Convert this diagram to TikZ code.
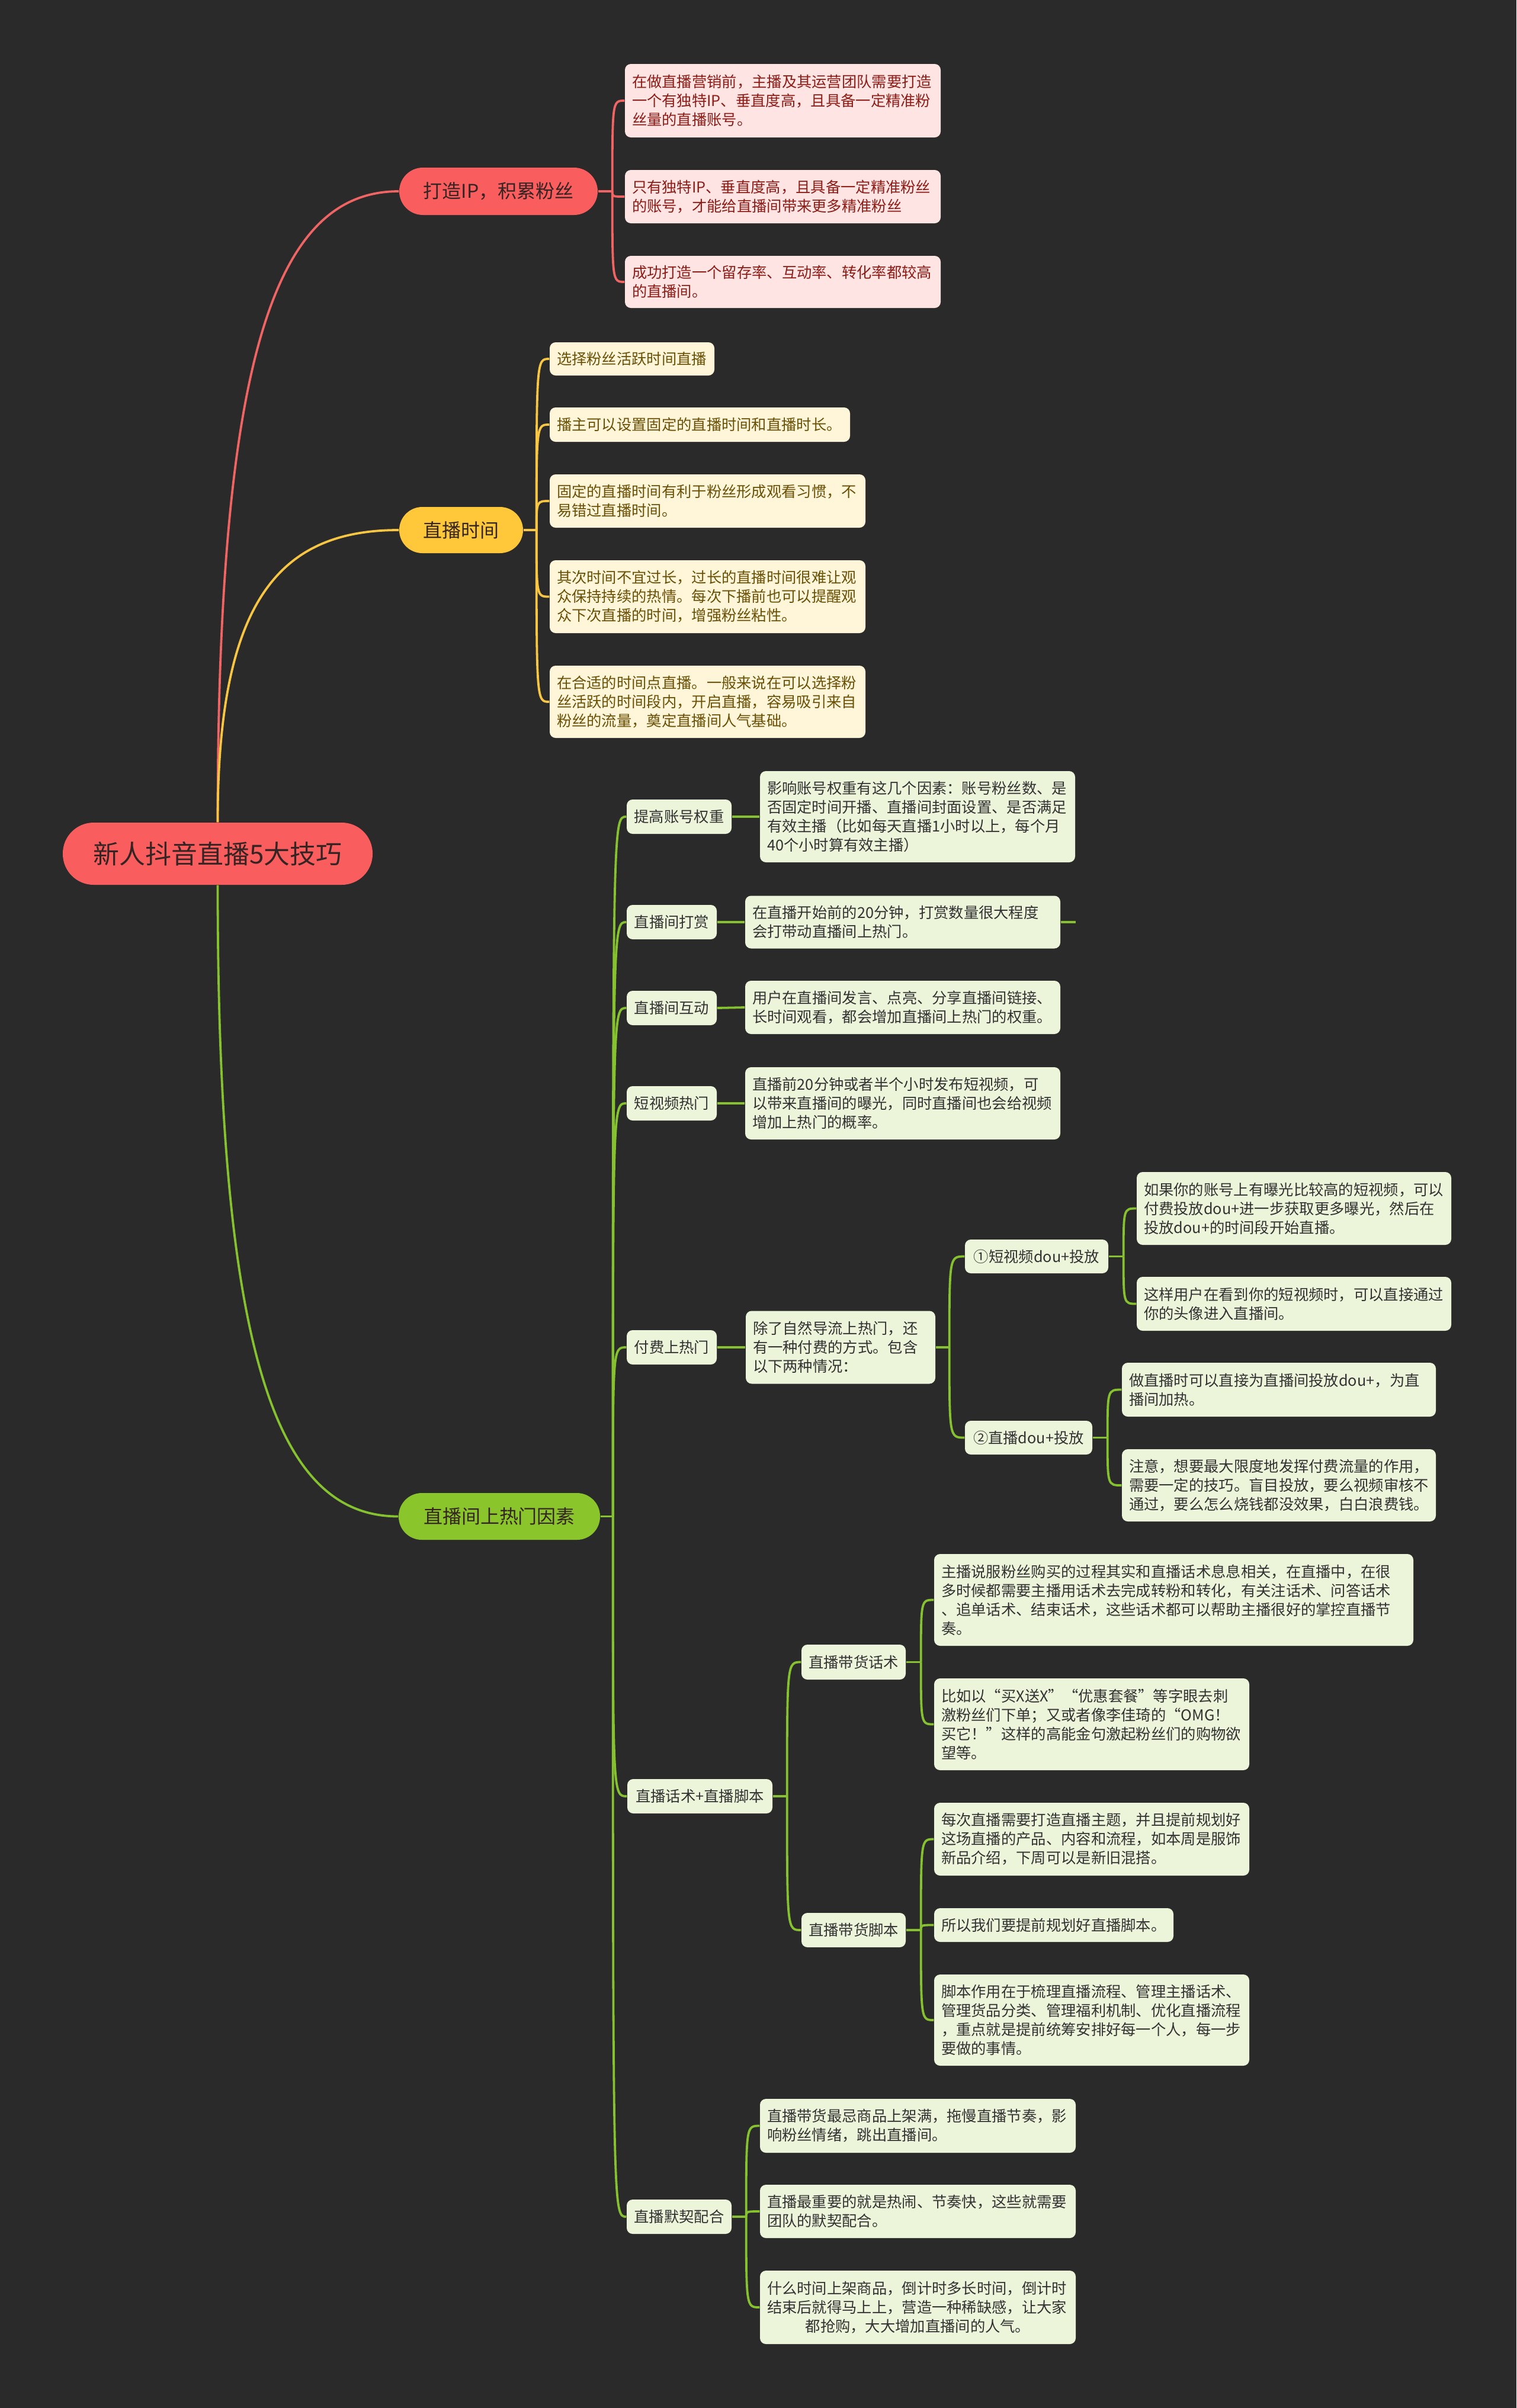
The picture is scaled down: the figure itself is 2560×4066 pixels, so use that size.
\documentclass[tikz,border=0pt]{standalone}
\usepackage{fontspec}
\setmainfont{Noto Sans CJK SC}
\usetikzlibrary{calc}
\definecolor{bgc}{RGB}{42,42,42}
\definecolor{redc}{RGB}{250,93,93}
\definecolor{redl}{RGB}{240,100,100}
\definecolor{yelc}{RGB}{255,200,58}
\definecolor{yell}{RGB}{248,198,66}
\definecolor{grnc}{RGB}{138,197,44}
\definecolor{grnl}{RGB}{134,194,48}
\definecolor{rfill}{RGB}{255,228,228}
\definecolor{rtext}{RGB}{140,28,22}
\definecolor{yfill}{RGB}{255,246,218}
\definecolor{ytext}{RGB}{105,80,5}
\definecolor{gfill}{RGB}{236,245,218}
\definecolor{gtext}{RGB}{50,50,50}
\definecolor{pilltext}{RGB}{52,36,36}
\pgfdeclarelayer{bg}
\pgfdeclarelayer{conn}
\pgfsetlayers{bg,conn,main}
\begin{document}
\begin{tikzpicture}[x=0.1mm,y=-0.1mm,
  box/.style={rectangle, rounded corners=1mm, inner xsep=1.2mm, inner ysep=0pt,
    font=\fontsize{7.2}{9.1}\selectfont, align=left},
  rleaf/.style={box, fill=rfill, text=rtext},
  yleaf/.style={box, fill=yfill, text=ytext},
  gleaf/.style={box, fill=gfill, text=gtext},
  gsub/.style={box, fill=gfill, text=gtext, align=center, minimum height=5.8mm},
  pill/.style={rectangle, rounded corners=3.9mm, inner sep=0pt,
    font=\fontsize{9.1}{11}\selectfont, minimum height=7.9mm, text=pilltext},
  rline/.style={draw=redl, line width=0.38mm},
  yline/.style={draw=yell, line width=0.38mm},
  gline/.style={draw=grnl, line width=0.38mm}]

\begin{pgfonlayer}{bg}
\fill[bgc] (0,0) rectangle (2560,4066);
\end{pgfonlayer}
\useasboundingbox (0,0) rectangle (2560,4066);

% root
\node[pill, fill=redc, minimum width=52.3mm, minimum height=10.5mm, rounded corners=5.2mm,
  font=\fontsize{12.5}{14}\selectfont] (root) at (367.5,1441.5) {新人抖音直播5大技巧};

% level 1
\node[pill, fill=redc, minimum width=33.5mm, minimum height=8mm, rounded corners=4mm] (A) at (841.5,323) {打造IP，积累粉丝};
\node[pill, fill=yelc, minimum width=20.9mm, minimum height=7.8mm] (B) at (778.5,895) {直播时间};
\node[pill, fill=grnc, minimum width=34mm, minimum height=7.9mm] (C) at (843,2560.5) {直播间上热门因素};

% red leaves
\node[rleaf, text width=50.9mm, minimum height=12.4mm] (a1) at (1321.5,170) {在做直播营销前，主播及其运营团队需要打造\\一个有独特IP、垂直度高，且具备一定精准粉\\丝量的直播账号。};
\node[rleaf, text width=50.9mm, minimum height=9mm] (a2) at (1321.5,332) {只有独特IP、垂直度高，且具备一定精准粉丝\\的账号，才能给直播间带来更多精准粉丝};
\node[rleaf, text width=50.9mm, minimum height=8.8mm] (a3) at (1321.5,476) {成功打造一个留存率、互动率、转化率都较高\\的直播间。};

% yellow leaves
\node[yleaf, text width=25.4mm, minimum height=5.6mm] (b1) at (1067,606) {选择粉丝活跃时间直播};
\node[yleaf, text width=48.3mm, minimum height=5.8mm] (b2) at (1181.5,717) {播主可以设置固定的直播时间和直播时长。};
\node[yleaf, text width=50.9mm, minimum height=9mm] (b3) at (1194.5,846) {固定的直播时间有利于粉丝形成观看习惯，不\\易错过直播时间。};
\node[yleaf, text width=50.9mm, minimum height=12.3mm] (b4) at (1194.5,1007.5) {其次时间不宜过长，过长的直播时间很难让观\\众保持持续的热情。每次下播前也可以提醒观\\众下次直播的时间，增强粉丝粘性。};
\node[yleaf, text width=50.9mm, minimum height=12.2mm] (b5) at (1194.5,1185) {在合适的时间点直播。一般来说在可以选择粉\\丝活跃的时间段内，开启直播，容易吸引来自\\粉丝的流量，奠定直播间人气基础。};

% green level 2
\node[gsub, minimum width=17.7mm] (c1) at (1146.5,1379) {提高账号权重};
\node[gsub, minimum width=15.2mm] (c2) at (1134,1557) {直播间打赏};
\node[gsub, minimum width=15.2mm] (c3) at (1134,1702) {直播间互动};
\node[gsub, minimum width=15.2mm] (c4) at (1134,1863) {短视频热门};
\node[gsub, minimum width=15.2mm] (c5) at (1134,2275) {付费上热门};
\node[gsub, minimum width=24.5mm] (c6) at (1181.5,3033) {直播话术+直播脚本};
\node[gsub, minimum width=17.7mm] (c7) at (1146.5,3743) {直播默契配合};

% green leaves
\node[gleaf, text width=50.8mm, minimum height=15.4mm] (c1l) at (1549,1379) {影响账号权重有这几个因素：账号粉丝数、是\\否固定时间开播、直播间封面设置、是否满足\\有效主播（比如每天直播1小时以上，每个月\\40个小时算有效主播）};
\node[gleaf, text width=50.8mm, minimum height=8.9mm] (c2l) at (1524,1557) {在直播开始前的20分钟，打赏数量很大程度\\会打带动直播间上热门。};
\node[gleaf, text width=50.8mm, minimum height=9mm] (c3l) at (1524,1701) {用户在直播间发言、点亮、分享直播间链接、\\长时间观看，都会增加直播间上热门的权重。};
\node[gleaf, text width=50.8mm, minimum height=12.2mm] (c4l) at (1524,1863) {直播前20分钟或者半个小时发布短视频，可\\以带来直播间的曝光，同时直播间也会给视频\\增加上热门的概率。};

\node[gleaf, text width=29.6mm, minimum height=12.3mm] (c5m) at (1419,2275) {除了自然导流上热门，还\\有一种付费的方式。包含\\以下两种情况：};
\node[gsub, minimum width=24.2mm, minimum height=5.7mm] (c5a) at (1750,2121.5) {①短视频dou+投放};
\node[gsub, minimum width=21.5mm, minimum height=5.7mm] (c5b) at (1736.5,2427.5) {②直播dou+投放};
\node[gleaf, text width=50.7mm, minimum height=12.3mm] (c5a1) at (2184.5,2040.5) {如果你的账号上有曝光比较高的短视频，可以\\付费投放dou+进一步获取更多曝光，然后在\\投放dou+的时间段开始直播。};
\node[gleaf, text width=50.7mm, minimum height=9.1mm] (c5a2) at (2184.5,2201.5) {这样用户在看到你的短视频时，可以直接通过\\你的头像进入直播间。};
\node[gleaf, text width=50.6mm, minimum height=9.1mm] (c5b1) at (2159,2346.5) {做直播时可以直接为直播间投放dou+，为直\\播间加热。};
\node[gleaf, text width=50.6mm, minimum height=12.2mm] (c5b2) at (2159,2508) {注意，想要最大限度地发挥付费流量的作用，\\需要一定的技巧。盲目投放，要么视频审核不\\通过，要么怎么烧钱都没效果，白白浪费钱。};

\node[gsub, minimum width=17.6mm, minimum height=5.9mm] (c6a) at (1441,2806.5) {直播带货话术};
\node[gsub, minimum width=17.6mm] (c6b) at (1441,3259) {直播带货脚本};
\node[gleaf, text width=78.5mm, minimum height=15.5mm] (c6a1) at (1981.5,2701.5) {主播说服粉丝购买的过程其实和直播话术息息相关，在直播中，在很\\多时候都需要主播用话术去完成转粉和转化，有关注话术、问答话术\\、追单话术、结束话术，这些话术都可以帮助主播很好的掌控直播节\\奏。};
\node[gleaf, text width=50.8mm, minimum height=15.5mm] (c6a2) at (1843,2911.5) {比如以“买X送X”“优惠套餐”等字眼去刺\\激粉丝们下单；又或者像李佳琦的“OMG！\\买它！”这样的高能金句激起粉丝们的购物欲\\望等。};
\node[gleaf, text width=50.8mm, minimum height=12.3mm] (c6b1) at (1843,3105.5) {每次直播需要打造直播主题，并且提前规划好\\这场直播的产品、内容和流程，如本周是服饰\\新品介绍，下周可以是新旧混搭。};
\node[gleaf, text width=38mm, minimum height=5.7mm] (c6b2) at (1779,3250.5) {所以我们要提前规划好直播脚本。};
\node[gleaf, text width=50.8mm, minimum height=15.4mm] (c6b3) at (1843,3411) {脚本作用在于梳理直播流程、管理主播话术、\\管理货品分类、管理福利机制、优化直播流程\\，重点就是提前统筹安排好每一个人，每一步\\要做的事情。};

\node[gleaf, text width=50.9mm, minimum height=9.1mm] (c7l1) at (1549.5,3589.5) {直播带货最忌商品上架满，拖慢直播节奏，影\\响粉丝情绪，跳出直播间。};
\node[gleaf, text width=50.9mm, minimum height=9mm] (c7l2) at (1549.5,3734) {直播最重要的就是热闹、节奏快，这些就需要\\团队的默契配合。};
\node[gleaf, text width=50.9mm, minimum height=12.4mm] (c7l3) at (1549.5,3896) {什么时间上架商品，倒计时多长时间，倒计时\\结束后就得马上上，营造一种稀缺感，让大家\\\makebox[\linewidth]{都抢购，大大增加直播间的人气。}};

% connectors
\begin{pgfonlayer}{conn}
\draw[rline] (root.north) .. controls (367.5,590) and (469,323) .. (A.west);
\draw[yline] (root.north) .. controls (367.5,1018) and (469,895) .. (B.west);
\draw[gline] (root.south) .. controls (367.5,2294) and (469,2560.5) .. (C.west);

\coordinate (Asp) at ($(A.east)+(24,0)$);
\draw[rline] (A.east) -- (Asp);
\foreach \c in {a1,a2,a3} \draw[rline] (Asp) .. controls (Asp |- \c.west) .. (\c.west);

\coordinate (Bsp) at ($(B.east)+(22,0)$);
\draw[yline] (B.east) -- (Bsp);
\foreach \c in {b1,b2,b3,b4,b5} \draw[yline] (Bsp) .. controls (Bsp |- \c.west) .. (\c.west);

\coordinate (Csp) at ($(C.east)+(21,0)$);
\draw[gline] (C.east) -- (Csp);
\foreach \c in {c1,c2,c3,c4,c5,c6,c7} \draw[gline] (Csp) .. controls (Csp |- \c.west) .. (\c.west);

\foreach \p/\c in {c1/c1l,c2/c2l,c3/c3l,c4/c4l,c5/c5m} \draw[gline] (\p.east) -- (\c.west);
\coordinate (stub) at ($(c2l.east)+(25,0)$);
\draw[gline] (c2l.east) -- (stub);

\coordinate (Msp) at ($(c5m.east)+(23,0)$);
\draw[gline] (c5m.east) -- (Msp);
\foreach \c in {c5a,c5b} \draw[gline] (Msp) .. controls (Msp |- \c.west) .. (\c.west);

\coordinate (Psp) at ($(c5a.east)+(25,0)$);
\draw[gline] (c5a.east) -- (Psp);
\foreach \c in {c5a1,c5a2} \draw[gline] (Psp) .. controls (Psp |- \c.west) .. (\c.west);

\coordinate (Qsp) at ($(c5b.east)+(25,0)$);
\draw[gline] (c5b.east) -- (Qsp);
\foreach \c in {c5b1,c5b2} \draw[gline] (Qsp) .. controls (Qsp |- \c.west) .. (\c.west);

\coordinate (Ssp) at ($(c6.east)+(24,0)$);
\draw[gline] (c6.east) -- (Ssp);
\foreach \c in {c6a,c6b} \draw[gline] (Ssp) .. controls (Ssp |- \c.west) .. (\c.west);

\coordinate (Tsp) at ($(c6a.east)+(25,0)$);
\draw[gline] (c6a.east) -- (Tsp);
\foreach \c in {c6a1,c6a2} \draw[gline] (Tsp) .. controls (Tsp |- \c.west) .. (\c.west);

\coordinate (Usp) at ($(c6b.east)+(25,0)$);
\draw[gline] (c6b.east) -- (Usp);
\foreach \c in {c6b1,c6b2,c6b3} \draw[gline] (Usp) .. controls (Usp |- \c.west) .. (\c.west);

\coordinate (Vsp) at ($(c7.east)+(24,0)$);
\draw[gline] (c7.east) -- (Vsp);
\foreach \c in {c7l1,c7l2,c7l3} \draw[gline] (Vsp) .. controls (Vsp |- \c.west) .. (\c.west);
\end{pgfonlayer}
\end{tikzpicture}
\end{document}
